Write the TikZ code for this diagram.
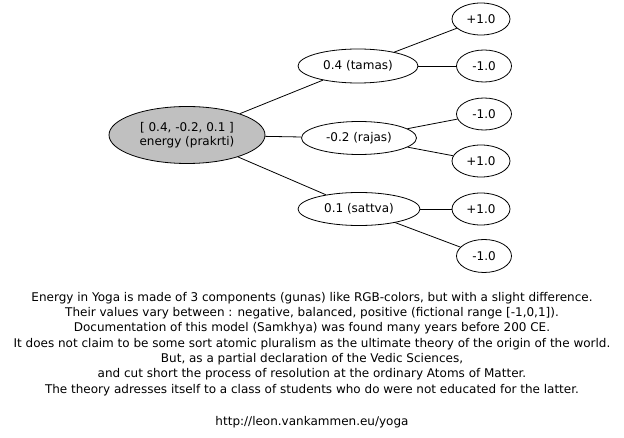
\documentclass[tikz,border=0pt]{standalone}
\usepackage{fontspec}
\setmainfont{DejaVu Sans}
\usetikzlibrary{shapes.geometric}
\definecolor{rootfill}{HTML}{C0C0C0}
\begin{document}
\begin{tikzpicture}[x=1pt,y=-1pt,
  font=\fontsize{12}{14}\selectfont,
  gnode/.style={ellipse,draw,line width=0.8pt,inner sep=0pt,align=center},
  edge/.style={draw,line width=0.8pt}]
\useasboundingbox (0,0) rectangle (624,438);
% root vector
\node[gnode,fill=rootfill,minimum width=156,minimum height=57] (root) at (187,135)
  {[ 0.4, -0.2, 0.1 ]\\energy (prakrti)};
% the three gunas
\node[gnode,minimum width=120,minimum height=34] (tamas) at (358,66) {0.4 (tamas)};
\node[gnode,minimum width=115,minimum height=33] (rajas) at (359,138) {-0.2 (rajas)};
\node[gnode,minimum width=122,minimum height=33] (sattva) at (359,209) {0.1 (sattva)};
% leaf values
\node[gnode,minimum width=58,minimum height=32] (t1) at (481,19) {+1.0};
\node[gnode,minimum width=55,minimum height=32] (t2) at (484,66) {-1.0};
\node[gnode,minimum width=55,minimum height=32] (r1) at (484,114) {-1.0};
\node[gnode,minimum width=58,minimum height=32] (r2) at (481,161) {+1.0};
\node[gnode,minimum width=58,minimum height=32] (s1) at (481,209) {+1.0};
\node[gnode,minimum width=55,minimum height=33] (s2) at (484,256) {-1.0};
% connectors
\draw[edge] (root) -- (tamas);
\draw[edge] (root) -- (rajas);
\draw[edge] (root) -- (sattva);
\draw[edge] (tamas) -- (t1);
\draw[edge] (tamas) -- (t2);
\draw[edge] (rajas) -- (r1);
\draw[edge] (rajas) -- (r2);
\draw[edge] (sattva) -- (s1);
\draw[edge] (sattva) -- (s2);
% caption
\node[align=center,font=\fontsize{12}{15.3}\selectfont,anchor=north,inner sep=0pt] (caption) at (312,292)
  {Energy in Yoga is made of 3 components (gunas) like RGB-colors, but with a slight difference.\\
   Their values vary between : negative, balanced, positive (fictional range [-1,0,1]).\\
   Documentation of this model (Samkhya) was found many years before 200 CE.\\
   It does not claim to be some sort atomic pluralism as the ultimate theory of the origin of the world.\\
   But, as a partial declaration of the Vedic Sciences,\\
   and cut short the process of resolution at the ordinary Atoms of Matter.\\
   The theory adresses itself to a class of students who do were not educated for the latter.\\[17pt]
   http://leon.vankammen.eu/yoga};
\end{tikzpicture}
\end{document}
